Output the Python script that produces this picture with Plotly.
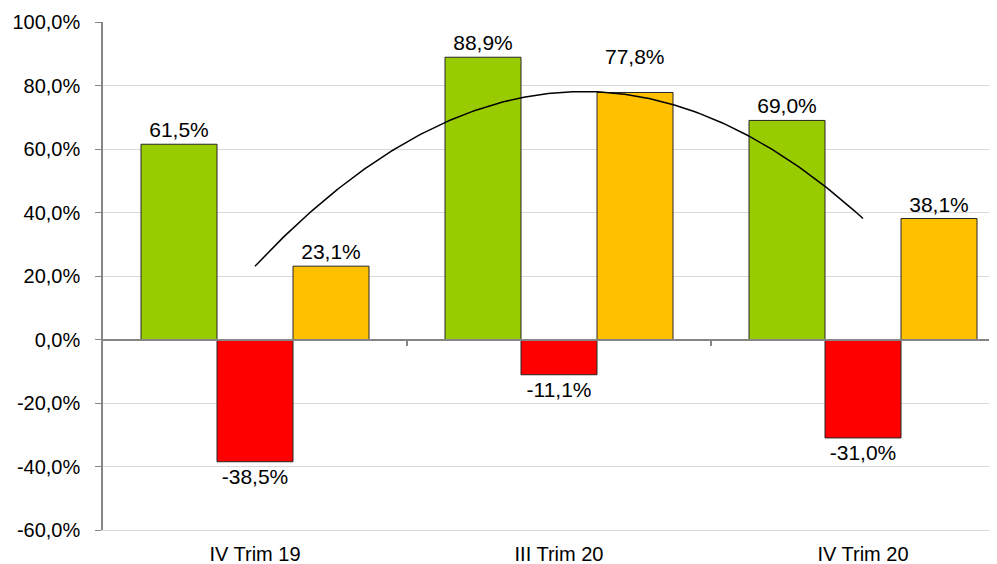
import numpy as np
import plotly.graph_objects as go

categories = ["IV Trim 19", "III Trim 20", "IV Trim 20"]
green_vals = [61.5, 88.9, 69.0]
red_vals = [-38.5, -11.1, -31.0]
orange_vals = [23.1, 77.8, 38.1]
y_ticks = [-60, -40, -20, 0, 20, 40, 60, 80, 100]

x_idx = np.arange(len(categories))


def pct(v):
    return f"{v:.1f}%".replace(".", ",")


FONT = "Liberation Sans, Arial, sans-serif"
FS = 21
FT = 20
fig = go.Figure()

series = [
    ("Verde", green_vals, "#99CC00"),
    ("Rosso", red_vals, "#FF0000"),
    ("Giallo", orange_vals, "#FFC000"),
]
for name, vals, col in series:
    texts = [pct(v) for v in vals]
    if name == "Giallo":
        texts[1] = ""
    fig.add_trace(go.Bar(
        x=x_idx, y=vals, name=name, marker_color=col,
        marker_line=dict(color="#262626", width=1),
        text=texts, textposition="outside", cliponaxis=False,
        textfont=dict(family=FONT, size=FS, color="#000000"),
        showlegend=False,
    ))

# special label lifted above the trend line
fig.add_annotation(
    x=x_idx[1] + 0.25, y=orange_vals[1], xref="x", yref="y",
    text=pct(orange_vals[1]), showarrow=False,
    yshift=36, font=dict(family=FONT, size=FS, color="#000000"),
)

# polynomial (order 2) trendline of orange series
coef = np.polyfit(x_idx, orange_vals, 2)
xs = np.linspace(0, 2, 200)
fig.add_trace(go.Scatter(x=xs, y=np.polyval(coef, xs), mode="lines",
                         line=dict(color="#000000", width=1.5),
                         showlegend=False, hoverinfo="skip"))

# secondary axis to draw category separators at the zero line
fig.add_trace(go.Scatter(x=[0], y=[0], xaxis="x2", mode="markers",
                         marker=dict(opacity=0), showlegend=False, hoverinfo="skip"))

xr = [-0.5, 2.5 - 18 / 304]
fig.update_layout(
    width=989, height=556,
    margin=dict(l=95, r=0, t=14, b=34, autoexpand=False),
    paper_bgcolor="white", plot_bgcolor="white",
    barmode="group", bargap=0.25, bargroupgap=0,
    font=dict(family=FONT, size=FS, color="#000000"),
    xaxis=dict(range=xr, tickvals=list(x_idx), ticktext=categories,
               showgrid=False, zeroline=False, showline=True,
               linecolor="#d9d9d9", linewidth=1, ticks="",
               automargin=False, ticklabelstandoff=6,
               tickfont=dict(family=FONT, size=FT, color="#000000")),
    xaxis2=dict(range=xr, overlaying="x", anchor="free",
                position=(0 - y_ticks[0]) / (y_ticks[-1] - y_ticks[0]),
                tickvals=[0.5, 1.5], showticklabels=False, ticks="outside",
                ticklen=6, tickcolor="#868686", tickwidth=1.5,
                showline=True, linecolor="#868686", linewidth=1.5,
                automargin=False,
                showgrid=False, zeroline=False, side="bottom"),
    yaxis=dict(range=[y_ticks[0], y_ticks[-1]], tickvals=y_ticks,
               ticktext=[pct(v) for v in y_ticks],
               showgrid=True, gridcolor="#d9d9d9", gridwidth=1,
               zeroline=False, showline=True, linecolor="#868686", linewidth=1.5,
               ticks="outside", ticklen=6, tickcolor="#868686",
               automargin=False, ticklabelstandoff=11,
               tickfont=dict(family=FONT, size=FT, color="#000000")),
)

fig.write_html("out.html")
